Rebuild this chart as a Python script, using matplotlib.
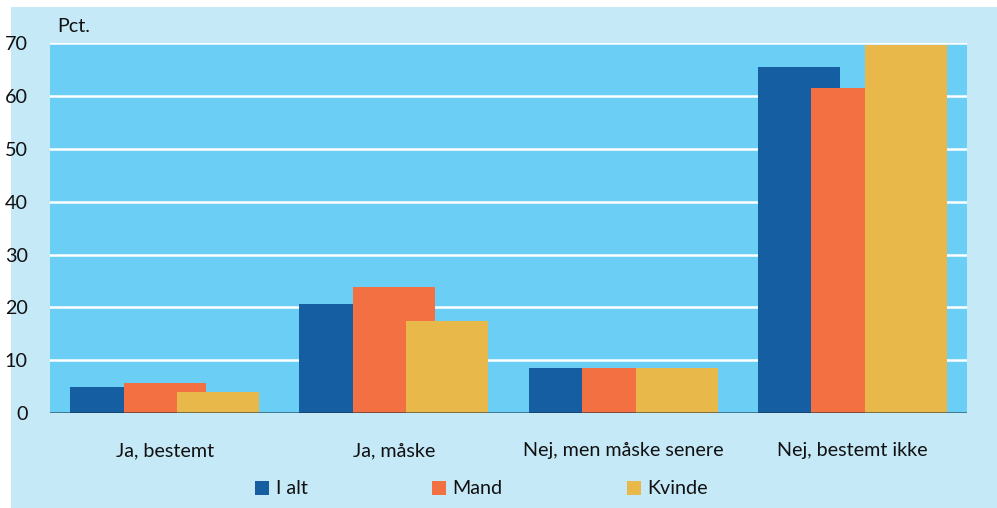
import matplotlib
matplotlib.use("Agg")
import matplotlib.pyplot as plt
from matplotlib.patches import Rectangle, Patch
import numpy as np

categories = ["Ja, bestemt", "Ja, måske", "Nej, men måske senere", "Nej, bestemt ikke"]
series_names = ["I alt", "Mand", "Kvinde"]
i_alt = [5.0, 20.6, 8.5, 65.6]
mand = [5.7, 23.8, 8.5, 61.5]
kvinde = [4.0, 17.4, 8.5, 69.7]
yticks = [0, 10, 20, 30, 40, 50, 60, 70]

colors = ["#155ea2", "#f37043", "#e8b84a"]
plot_bg = "#6bcff5"
outer_bg = "#c6e9f8"
font = ["Lato", "DejaVu Sans"]
plt.rcParams["font.family"] = font
fs = 14.2

W, H = 997, 508
fig = plt.figure(figsize=(W / 100, H / 100), dpi=100)
fig.patch.set_facecolor("white")
fig.patches.append(Rectangle((11 / W, 0), 1, (H - 7) / H, transform=fig.transFigure,
                             facecolor=outer_bg, edgecolor="none", zorder=-10))

ax = fig.add_axes([50 / W, 1 - 413 / H, 917 / W, (413 - 43.3) / H])
ax.set_facecolor(plot_bg)
x = np.arange(len(categories))
width = 0.358
offset = 0.233
for i, vals in enumerate([i_alt, mand, kvinde]):
    ax.bar(x + (i - 1) * offset, vals, width=width, color=colors[i],
           label=series_names[i], zorder=3 + i)

ax.set_xlim(-0.5, len(categories) - 0.5)
ax.set_ylim(0, 70)
ax.set_yticks(yticks)
ax.set_yticklabels([str(t) for t in yticks], fontsize=fs, color="#111111")
ax.set_xticks(x)
ax.set_xticklabels(categories, fontsize=fs, color="#111111")
ax.tick_params(axis="both", length=0)
ax.tick_params(axis="y", pad=16)
ax.tick_params(axis="x", pad=21)
for t in yticks[1:]:
    ax.axhline(t, color="white", lw=1.8, zorder=2)
ax.axhline(0, color="#1a3040", lw=1.8, alpha=0.7, zorder=10)
for s in ax.spines.values():
    s.set_visible(False)

fig.text(57 / W, 1 - 26 / H, "Pct.", fontsize=fs, va="center", ha="left", color="#111111")

handles = [Patch(facecolor=c, edgecolor="none") for c in colors]
leg = fig.legend(handles, series_names, loc="center left", bbox_to_anchor=(255 / W, 1 - 489 / H),
                 ncol=3, frameon=False, fontsize=fs, handlelength=0.7, handleheight=0.7,
                 handletextpad=0.35, columnspacing=6.3, borderaxespad=0, borderpad=0)
for t in leg.get_texts():
    t.set_color("#111111")

fig.savefig("out.png", dpi=100, facecolor=fig.get_facecolor())
